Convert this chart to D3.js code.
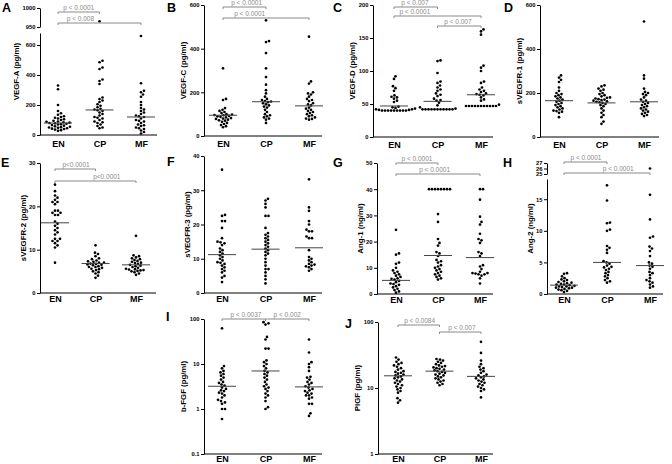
<!DOCTYPE html>
<html><head><meta charset="utf-8">
<script src="https://cdn.jsdelivr.net/npm/d3@7"></script>
<style>body{margin:0;background:#fff}svg{display:block;font-family:Arial,"Liberation Sans",sans-serif}</style>
</head><body><svg id="c" width="672" height="464"></svg>
<script>
const groups = ["EN","CP","MF"];

const vegfA = [
 [330,305,200,160,145,135,125,120,115,110,105,100,95,90,88,85,82,80,78,75,72,70,66,62,58,55,52,50,48,45,42,40,36,32,28],
 [965,495,485,450,440,370,360,340,250,240,230,220,205,195,185,175,170,165,160,150,140,130,120,115,110,100,90,85,80,70,60,50,45],
 [660,345,295,285,270,255,220,200,180,170,160,150,140,130,125,120,110,100,95,90,80,70,65,60,50,45,40,30,20,10]];
const vegfAMed = [80,167,120];
const vegfATicks = [0,200,400,600];
const vegfABreakTicks = [950,1000];
const vegfAP = ["p < 0.0001","p < 0.008"];

const vegfC = [
 [310,170,165,128,120,115,110,105,100,98,96,95,92,90,88,85,82,80,78,75,72,70,65,60,55,50,45,40],
 [530,435,430,380,310,270,235,210,195,180,170,165,160,158,155,150,145,140,135,130,120,110,100,95,90,85,80,75,60],
 [455,250,240,200,195,190,180,170,165,160,150,145,140,130,125,120,115,110,105,100,95,90,85,80,78,75]];
const vegfCMed = [95,157,138];
const vegfCTicks = [0,200,400,600];
const vegfCP = ["p < 0.0001","p < 0.0001"];

const vegfD = [
 [92,88,77,74,70,63,61,60,58,55,53,46,45,44,43,42,42,41,41,40,40,40,40,40,40,40,40,40],
 [116,115,97,84,82,78,75,72,70,66,64,62,58,56,55,52,48,45,43,42,42,42,42,42,42,42,42,42,42,42],
 [163,160,155,108,105,100,84,82,75,72,70,68,66,65,64,63,60,57,55,49,47,47,47,47,47,47,47,47,47,47,47]];
const vegfDMed = [47,54,64];
const vegfDTicks = [0,50,100,150,200];
const vegfDP = ["p < 0.007","p < 0.0001","p < 0.007"];

const svegfr1 = [
 [280,270,260,250,225,210,200,195,190,185,180,175,170,165,160,155,150,145,140,135,130,125,120,118,115,110,90],
 [235,230,220,215,210,200,195,190,185,180,178,175,172,170,168,165,162,160,158,155,150,145,140,130,120,110,100,90,70,60],
 [525,280,265,220,205,200,195,190,180,170,165,160,155,150,145,140,135,130,125,120,115,110,105,100,95]];
const svegfr1Med = [165,155,160];
const svegfr1Ticks = [0,200,400,600];

const svegfr2 = [
 [25,23.5,22.5,22,21.5,21,21,20.5,19,19,18.5,18.5,18,18,16.5,16,15.5,15,14.5,14,13.5,12.5,12.5,12,12,11.5,11,10.5,7],
 [11,9.3,9,8.5,8,7.8,7.5,7.3,7.2,7,7,6.8,6.7,6.6,6.5,6.4,6.2,6,6,5.8,5.6,5.5,5.3,5,4.8,4.5,4,3.5],
 [13.2,8.7,8.5,8.2,8,7.8,7.6,7.4,7.2,7,6.9,6.7,6.5,6.3,6.2,6,5.8,5.6,5.5,5.4,5.3,5.2,5.1,5,4.8,4.5,4.2]];
const svegfr2Med = [16.2,6.8,6.5];
const svegfr2Ticks = [0,10,20,30];
const svegfr2P = ["p<0.0001","p<0.0001"];

const svegfr3 = [
 [36,22.8,22.5,21,21,19,16,15,14.8,14.5,14,13,12.5,12,11.5,11,10.5,10,9.5,9,8.8,8.5,8,7.5,7,6.5,6,5,4.5,3.2],
 [27.5,27,26,25,22.5,22.5,19,17.5,17,16.5,16,15.5,15,14.5,14,13.5,13,12.5,12,11.5,11,10,9,8,7,7,6,5,4,2.8],
 [33.2,25,24,21,20,18.5,18,18,16.5,16,16,12.5,10.5,10,9.5,9,8.5,8.3,8,7.8,7.5,7,6.5]];
const svegfr3Med = [11.2,12.8,13.2];
const svegfr3Ticks = [0,10,20,30,40];

const ang1 = [
 [24.5,15.5,15,12,11.5,10,9,8.5,8,7.5,7,6.5,6,5.8,5.5,5,4.5,4,3.8,3.5,3,2.5,2,1.5,1,0.5],
 [40,40,40,40,40,40,40,40,30.5,27.5,21,19.5,18.5,16,15.5,14.5,13,12.5,12,11,10.5,10,9.5,9,8.5,8,7.5,7,6.5,6,5.5],
 [40,40,36,29.5,27.5,26.5,23,21,20.5,19.5,16,15.5,14.5,11,10.5,9.5,8.5,8,8,7.8,7.5,7.5,7,6,4]];
const ang1Med = [5.2,14.7,13.9];
const ang1Ticks = [0,10,20,30,40,50];
const ang1P = ["p < 0.0001","p < 0.0001"];

const ang2 = [
 [3.3,3.2,2.8,2.5,2.3,2.2,2,1.9,1.8,1.7,1.6,1.5,1.5,1.4,1.3,1.2,1.2,1.1,1,1,0.9,0.8,0.7,0.6,0.5,0.3],
 [17.2,14.8,11.3,11.2,10.2,10,7.6,7.3,7,6.5,5.2,5,4.8,4.5,4.3,4.2,4,3.8,3.5,3.3,3,2.8,2.5,2.2,2,1.8],
 [26,15.7,11.8,9.1,8.9,7.5,7.2,6.8,6,5,4.8,4.5,4.3,4,3.5,3.3,3,2.5,2.2,2,1.8,1.5,1.2,1]];
const ang2Med = [1.4,5,4.5];
const ang2Ticks = [0,5,10,15];
const ang2BreakTicks = [25,26,27];
const ang2P = ["p < 0.0001","p < 0.0001"];

const bfgf = [
 [62,9,8,7,6.5,6,5.5,5,4.5,4,3.8,3.5,3.3,3,2.8,2.6,2.5,2.3,2.2,2,1.8,1.6,1.5,1.4,1.3,1,1,0.6],
 [85,80,75,40,35,22,22,12,11,10,9,8,7,6.5,6,5.5,5,4.5,4,3.5,3.2,3,2.8,2.5,2.2,2,1.8,1.5,1.1,1],
 [35,18,11,10,8.5,7,5.2,5,4.5,4,3.8,3.5,3.2,3,2.8,2.6,2.5,2.3,2.2,2,2,1.8,1.7,1.3,1.3,0.8,0.7]];
const bfgfMed = [3.2,7,3.1];
const bfgfTicks = [0.1,1,10,100];
const bfgfP = ["p < 0.0037","p < 0.002"];

const plgf = [
 [29,27,25,24,23,22,21,20,19,18,17.5,17,16.5,16,15.5,15,14.5,14,13.5,13,12.5,12,11.5,11,10.5,10,9.5,9,8.5,7,6.5,6],
 [27.5,27,26,25,24,23,22,21.5,21,20.5,20,19.5,19,18.5,18,17.5,17,16.5,16,15.5,15,14.5,14,13.5,13,12.5,12,11.5,11],
 [50,34,26,23,21,20,19,18,17,16,15.5,15,14.5,14,13.5,13,12.5,12,11.5,11,10.5,10,9.5,9,7.2]];
const plgfMed = [15.3,18,15];
const plgfTicks = [1,10,100];
const plgfP = ["p < 0.0084","p < 0.007"];

// layout
const panels = [
 {L:"A",title:"VEGF-A (pg/ml)",data:vegfA,med:vegfAMed,ticks:vegfATicks,dom:[0,680],rng:[135,33],ax:40,xEnd:157,cx:[58,141],let:[2,12],pad:6,
  brk:{dom:[950,1000],rng:[27,8],ticks:vegfABreakTicks,at:900},br:[[0,1,12,0.5],[0,2,23,0.27]],pl:vegfAP},
 {L:"B",title:"VEGF-C (pg/ml)",data:vegfC,med:vegfCMed,ticks:vegfCTicks,dom:[0,600],rng:[136,5],ax:204,xEnd:322,cx:[223,309],let:[167,12],pad:5,
  br:[[0,1,7,0.55],[0,2,18,0.31]],pl:vegfCP},
 {L:"C",title:"VEGF-D (pg/ml)",data:vegfD,med:vegfDMed,ticks:vegfDTicks,dom:[0,200],rng:[137,5],ax:373,xEnd:493,cx:[394,481],let:[333,12],pad:5,
  br:[[0,1,7,0.48],[0,2,16,0.24],[1,2,26,0.47]],pl:vegfDP},
 {L:"D",title:"sVEGFR-1 (pg/ml)",data:svegfr1,med:svegfr1Med,ticks:svegfr1Ticks,dom:[0,600],rng:[137,5],ax:540,xEnd:659,cx:[559,644],let:[504,12],pad:5,
  br:[],pl:[]},
 {L:"E",title:"sVEGFR-2 (pg/ml)",data:svegfr2,med:svegfr2Med,ticks:svegfr2Ticks,dom:[0,30],rng:[293,163],ax:40,xEnd:156,cx:[55,136],let:[1,167],pad:3,
  br:[[0,1,169,0.52],[0,2,181,0.64]],pl:svegfr2P},
 {L:"F",title:"sVEGFR-3 (pg/ml)",data:svegfr3,med:svegfr3Med,ticks:svegfr3Ticks,dom:[0,40],rng:[293,156],ax:204,xEnd:322,cx:[222,309],let:[167,166],pad:3,
  br:[],pl:[]},
 {L:"G",title:"Ang-1 (ng/ml)",data:ang1,med:ang1Med,ticks:ang1Ticks,dom:[0,50],rng:[294,163],ax:377,xEnd:493,cx:[396,480],let:[333,167],pad:3,
  br:[[0,1,163,0.5],[0,2,174,0.46]],pl:ang1P},
 {L:"H",title:"Ang-2 (ng/ml)",data:ang2,med:ang2Med,ticks:ang2Ticks,dom:[0,18.2],rng:[294,179],ax:547,xEnd:663,cx:[564,650],let:[503,167],pad:3,
  brk:{dom:[25,27],rng:[174,163],ticks:ang2BreakTicks,at:22},br:[[0,1,162,0.51],[0,2,173,0.63]],pl:ang2P},
 {L:"I",title:"b-FGF (pg/ml)",data:bfgf,med:bfgfMed,ticks:bfgfTicks,log:true,dom:[0.1,100],rng:[454,319],ax:204,xEnd:322,cx:[222,309],let:[166,321],pad:2,
  br:[[0,1,319,0.55],[1,2,319,0.5]],pl:bfgfP},
 {L:"J",title:"PlGF (pg/ml)",data:plgf,med:plgfMed,ticks:plgfTicks,log:true,dom:[1,100],rng:[454,322],ax:378,xEnd:493,cx:[398,481],let:[345,328],pad:2,
  br:[[0,1,325,0.52],[1,2,332,0.54]],pl:plgfP}
];

const svg = d3.select("#c");
const R = 1.35;
const grey = "#8a8a8a";

function swarm(vals, yf, cx){
  const pts = vals.map(v => ({v, y: yf(v)})).sort((a,b)=>b.y-a.y);
  const placed = [];
  const d = 2*R + 0.25;
  for (const p of pts){
    let xx = cx;
    for (let k=0;k<400;k++){
      const off = (k%2===1?1:-1)*Math.ceil(k/2)*0.5;
      const x = cx+off;
      if (placed.every(q => (q.x-x)*(q.x-x)+(q.y-p.y)*(q.y-p.y) >= d*d)){ xx = x; break; }
    }
    p.x = xx; placed.push(p);
  }
  return placed;
}

function styleAxis(s){
  s.attr("font-family",null).attr("font-size",null);
  s.selectAll("text").attr("font-size",5.8).attr("font-weight","bold").attr("fill","#000");
  s.selectAll("line,path").attr("stroke","#000").attr("stroke-width",1);
}

panels.forEach(p => {
  const g = svg.append("g");
  const y = (p.log ? d3.scaleLog() : d3.scaleLinear()).domain(p.dom).range(p.rng);
  const yb = p.brk ? d3.scaleLinear().domain(p.brk.dom).range(p.brk.rng) : null;
  const yf = v => (yb && v >= p.brk.at) ? yb(v) : y(v);
  const x = d3.scalePoint().domain(groups).range(p.cx);

  const axes = g.append("g");
  axes.append("g").attr("transform",`translate(${p.ax},0)`)
    .call(d3.axisLeft(y).tickValues(p.ticks).tickSizeInner(3).tickSizeOuter(0).tickPadding(1.5).tickFormat(d=>String(d)))
    .call(styleAxis);
  if (yb){
    axes.append("g").attr("transform",`translate(${p.ax},0)`)
      .call(d3.axisLeft(yb).tickValues(p.brk.ticks).tickSizeInner(3).tickSizeOuter(0).tickPadding(1.5).tickFormat(d=>String(d)))
      .call(styleAxis);
  }
  const top = yb ? p.brk.rng[1] : p.rng[1];
  g.append("line").attr("x1",p.ax).attr("x2",p.xEnd).attr("y1",p.rng[0]).attr("y2",p.rng[0]).attr("stroke","#000");
  const xg = g.append("g").attr("transform",`translate(0,${p.rng[0]})`)
    .call(d3.axisBottom(x).tickSize(0).tickPadding(p.pad));
  xg.attr("font-family",null).attr("font-size",null);
  xg.select(".domain").remove();
  xg.selectAll("text").attr("font-size",9).attr("font-weight","bold").attr("fill","#000");

  groups.forEach((gr,i) => {
    const pts = swarm(p.data[i], yf, x(gr));
    g.append("g").selectAll("circle").data(pts).join("circle")
      .attr("cx",d=>d.x).attr("cy",d=>d.y).attr("r",R).attr("fill","#000");
    g.append("line").attr("x1",x(gr)-14).attr("x2",x(gr)+14)
      .attr("y1",y(p.med[i])).attr("y2",y(p.med[i])).attr("stroke","#444").attr("stroke-width",1);
  });

  p.br.forEach((b,j) => {
    const x1 = x(groups[b[0]]), x2 = x(groups[b[1]]), yy = b[2];
    g.append("path").attr("d",`M${x1},${yy+2}V${yy}H${x2}V${yy+2}`).attr("fill","none").attr("stroke",grey).attr("stroke-width",1);
    g.append("text").attr("x",x1+(x2-x1)*b[3]).attr("y",yy-2).attr("text-anchor","middle")
      .attr("font-size",6.5).attr("fill",grey).text(p.pl[j]);
  });

  const bb = axes.node().getBBox();
  g.append("text").attr("transform",`translate(${bb.x-6},${(p.rng[0]+top)/2}) rotate(-90)`)
    .attr("text-anchor","middle").attr("dominant-baseline","central").attr("fill","#000")
    .attr("font-size",7.8).attr("font-weight","bold").text(p.title);
  g.append("text").attr("x",p.let[0]).attr("y",p.let[1]).attr("fill","#000")
    .attr("font-size",12.5).attr("font-weight","bold").text(p.L);
});
</script></body></html>
